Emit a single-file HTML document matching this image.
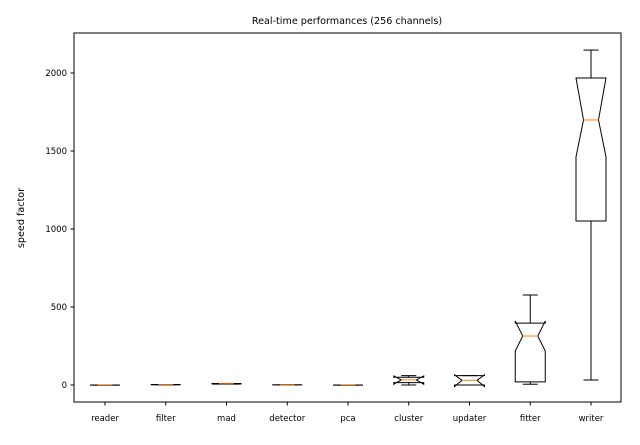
<!DOCTYPE html>
<html><head><meta charset="utf-8"><style>
body{margin:0;background:#fff}
svg text{font-family:"DejaVu Sans","Liberation Sans",sans-serif;fill:#000}
</style></head><body>
<svg id="c" width="640" height="440" xmlns="http://www.w3.org/2000/svg"></svg>
<script>
const categories=["reader","filter","mad","detector","pca","cluster","updater","fitter","writer"];
const whiskerLo=[-2,1,6,0,-2,0,0,5,32];
const q1=[-2,1,6,0,-2,15,0,20,1051];
const notchLo=[-2,1,6,0,-2,5,-10,218,1462];
const medians=[-1,2,8,1,-1,33,30,314,1699];
const notchHi=[0,3,10,2,0,58,65,410,1968];
const q3=[0,3,10,2,0,50,60,397,1968];
const whiskerHi=[0,3,10,2,0,60,60,577,2147];
const yTicks=[0,500,1000,1500,2000];

const svg=document.getElementById('c');
const NS="http://www.w3.org/2000/svg";
const L=74,R=621,T=33,B=402;
const y=v=>385-v*0.156;
const x=i=>105+i*60.75;
function mk(tag,attrs,name,txt){const e=document.createElementNS(NS,tag);for(const k in attrs)e.setAttribute(k,attrs[k]);


if(txt!==undefined)e.textContent=txt;svg.appendChild(e);return e;}
mk('rect',{x:L,y:T,width:R-L,height:B-T,fill:'none',stroke:'#000','stroke-width':1},'plot-area');
mk('text',{x:347,y:24,'font-size':9.6,'text-anchor':'middle'},'chart-title','Real-time performances (256 channels)');
mk('text',{x:24,y:218,'font-size':9.6,'text-anchor':'middle',transform:'rotate(-90 24 218)'},'y-axis-title','speed factor');
yTicks.forEach(t=>{const yy=y(t);
mk('line',{x1:L-3.5,x2:L,y1:yy,y2:yy,stroke:'#000'},'y-tick');
mk('text',{x:L-7,y:yy+3,'font-size':8.5,'text-anchor':'end'},'y-tick-label',t);});
categories.forEach((c,i)=>{const cx=x(i);
mk('line',{x1:cx,x2:cx,y1:B,y2:B+3.5,stroke:'#000'},'x-tick');
mk('text',{x:cx,y:B+19,'font-size':8.5,'text-anchor':'middle'},'x-tick-label',c);
const hw=15,nw=7.5;
mk('line',{x1:cx,x2:cx,y1:y(q3[i]),y2:y(whiskerHi[i]),stroke:'#000'},'whisker-upper');
mk('line',{x1:cx,x2:cx,y1:y(q1[i]),y2:y(whiskerLo[i]),stroke:'#000'},'whisker-lower');
mk('line',{x1:cx-nw,x2:cx+nw,y1:y(whiskerHi[i]),y2:y(whiskerHi[i]),stroke:'#000'},'cap-upper');
mk('line',{x1:cx-nw,x2:cx+nw,y1:y(whiskerLo[i]),y2:y(whiskerLo[i]),stroke:'#000'},'cap-lower');
const pts=[[cx-hw,q1[i]],[cx-hw,notchLo[i]],[cx-nw,medians[i]],[cx-hw,notchHi[i]],[cx-hw,q3[i]],[cx+hw,q3[i]],[cx+hw,notchHi[i]],[cx+nw,medians[i]],[cx+hw,notchLo[i]],[cx+hw,q1[i]]];
mk('polygon',{points:pts.map(p=>p[0]+','+y(p[1])).join(' '),fill:'none',stroke:'#000'},'box-'+c);
mk('line',{x1:cx-nw,x2:cx+nw,y1:y(medians[i]),y2:y(medians[i]),stroke:'#ff7f0e'},'median-'+c);
});
</script>
</body></html>
